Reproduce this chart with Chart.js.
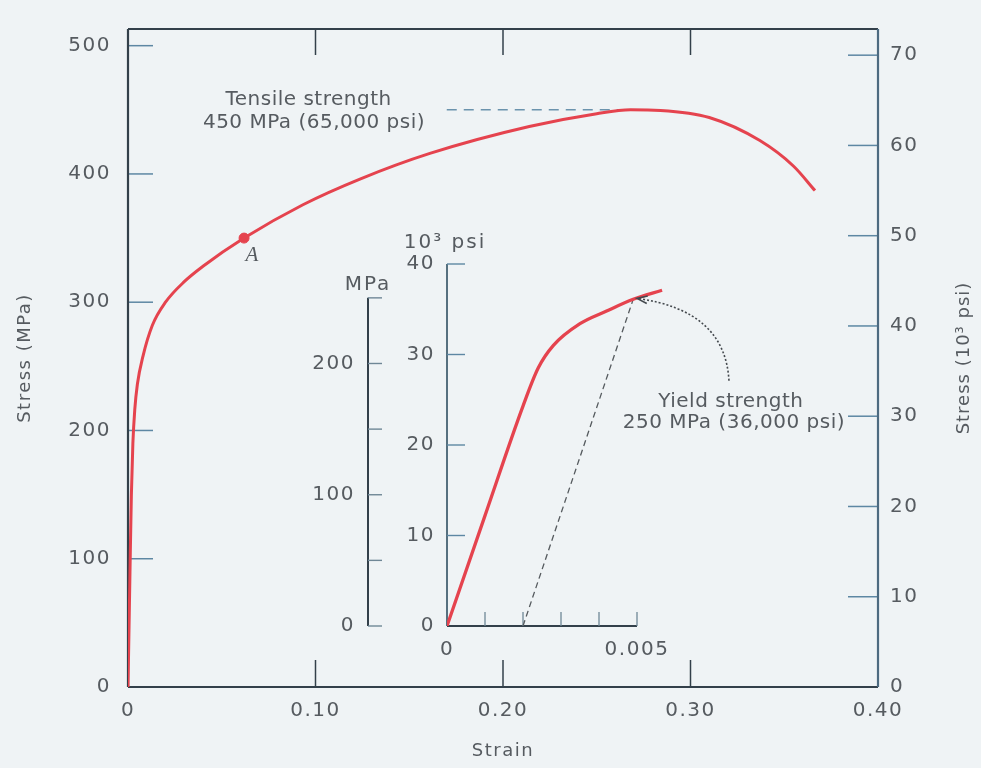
<!DOCTYPE html>
<html>
<head>
<meta charset="utf-8">
<title>Stress-strain curve</title>
<script src="https://cdn.jsdelivr.net/npm/chart.js@4.4.1/dist/chart.umd.min.js"></script>
<style>
  body { margin: 0; background: #eff3f5; }
  #wrap { position: relative; width: 981px; height: 768px; }
  #chart { position: absolute; left: 0; top: 0; }
  #inset { position: absolute; left: 300px; top: 220px; }
</style>
</head>
<body>
<div id="wrap">
  <canvas id="chart" width="981" height="768"></canvas>
  <canvas id="inset" width="580" height="450"></canvas>
</div>
<script>
'use strict';

// main curve, strain vs stress in MPa
const strain    = [0, 0.0010, 0.0018, 0.0026, 0.0036, 0.0050, 0.0080, 0.0130, 0.0200, 0.030, 0.040, 0.0619, 0.0933, 0.1237, 0.161, 0.214, 0.250, 0.268, 0.284, 0.310, 0.337, 0.355, 0.3664];
const stressMPa = [0, 85,     150,    190,    216,    236,    258,    282,    300,    316,   328,   350,    376,    396,    416,   437,   447,   450,   449.5, 444,   426,   406,   387];

// tensile strength and point A
const tensileStrain = [0.170, 0.268];
const tensileMPa = [450, 450];
const pointA = [0.0619, 350];

// inset: small strains, stress in 10^3 psi
const insetStrain = [0, 0.0010, 0.0020, 0.0024, 0.0028, 0.0035, 0.0042, 0.0049, 0.00566];
const insetKsi    = [0, 12.2,   24.3,   28.5,   31.0,   33.4,   34.8,   36.1,   37.1];
// 0.002 offset line up to the yield point
const offsetStrain = [0.002, 0.0049];
const offsetKsi = [0, 36.1];

// tick labels
const xTickLabels = ['0', '0.10', '0.20', '0.30', '0.40'];
const mpaTickLabels = ['0', '100', '200', '300', '400', '500'];
const ksiTickLabels = ['0', '10', '20', '30', '40', '50', '60', '70'];
const insetXTickLabels = ['0', '', '', '', '', '0.005', ''];
const insetKsiTickLabels = ['0', '10', '20', '30', '40'];
const insetMPaTickLabels = ['0', '', '100', '', '200', ''];

const RED = '#e5434e';
const INK = '#33404a';
const TICK = '#5d87a3';
const TEXT = '#565b60';
const FONT = 'DejaVu Sans';
const MPA_PER_KSI = 6.895;

function line(ctx, x1, y1, x2, y2) {
  ctx.beginPath();
  ctx.moveTo(x1, y1);
  ctx.lineTo(x2, y2);
  ctx.stroke();
}

function text(ctx, str, x, y, font, spacing) {
  ctx.save();
  ctx.font = font;
  ctx.fillStyle = TEXT;
  ctx.textAlign = 'center';
  ctx.textBaseline = 'alphabetic';
  ctx.letterSpacing = spacing;
  ctx.fillText(str, x, y);
  ctx.restore();
}

const tickFont = { family: FONT, size: 20 };
const titleFont = { family: FONT, size: 18 };

const mainDecor = {
  id: 'mainDecor',
  beforeDraw(chart) {
    chart.ctx.letterSpacing = '1.5px';
  },
  beforeDatasetsDraw(chart) {
    const { ctx, chartArea: a, scales } = chart;
    ctx.save();
    ctx.lineWidth = 1.5;
    ctx.strokeStyle = TICK;
    scales.y.ticks.forEach(t => {
      if (t.value === 0) return;
      const py = scales.y.getPixelForValue(t.value);
      line(ctx, a.left, py, a.left + 25, py);
    });
    scales.y1.ticks.forEach(t => {
      if (t.value === 0) return;
      const py = scales.y1.getPixelForValue(t.value);
      line(ctx, a.right - 30, py, a.right, py);
    });
    ctx.strokeStyle = INK;
    scales.x.ticks.forEach((t, i) => {
      if (i === 0 || i === scales.x.ticks.length - 1) return;
      const px = scales.x.getPixelForValue(t.value);
      line(ctx, px, a.top, px, a.top + 26);
      line(ctx, px, a.bottom - 27, px, a.bottom);
    });
    ctx.lineWidth = 2.2;
    line(ctx, a.left, a.top, a.right, a.top);
    line(ctx, a.left, a.top, a.left, a.bottom);
    line(ctx, a.left, a.bottom, a.right, a.bottom);
    ctx.strokeStyle = '#4d6a80';
    line(ctx, a.right, a.top, a.right, a.bottom);
    ctx.restore();
  },
  afterDraw(chart) {
    const { ctx, chartArea: a, scales: { x, y, y1 } } = chart;
    const f = '20px "' + FONT + '"';
    text(ctx, 'Tensile strength', x.getPixelForValue(0.0963), y.getPixelForValue(453.6), f, '0.5px');
    text(ctx, '450 MPa (65,000 psi)', x.getPixelForValue(0.0992), y.getPixelForValue(436), f, '0.5px');
    text(ctx, 'A', x.getPixelForValue(0.0661), y.getPixelForValue(332), 'italic 21px "Liberation Serif"', '0px');
    // right axis title, reading bottom to top
    ctx.save();
    ctx.translate(y1.right - 17, (a.top + a.bottom) / 2);
    ctx.rotate(-Math.PI / 2);
    ctx.font = '18px "' + FONT + '"';
    ctx.fillStyle = TEXT;
    ctx.textAlign = 'center';
    ctx.textBaseline = 'middle';
    ctx.letterSpacing = '1px';
    ctx.fillText('Stress (10\u00b3 psi)', 0, 0);
    ctx.restore();
  }
};

new Chart(document.getElementById('chart'), {
  type: 'line',
  data: {
    datasets: [
      {
        data: strain.map((s, i) => ({ x: s, y: stressMPa[i] })),
        borderColor: RED, borderWidth: 3, pointRadius: 0,
        cubicInterpolationMode: 'monotone', yAxisID: 'y'
      },
      {
        data: tensileStrain.map((s, i) => ({ x: s, y: tensileMPa[i] })),
        borderColor: '#6b93ad', borderWidth: 1.5, borderDash: [10, 7], pointRadius: 0, yAxisID: 'y'
      },
      {
        data: [{ x: pointA[0], y: pointA[1] }],
        showLine: false, pointRadius: 5, pointBackgroundColor: RED, pointBorderColor: RED, yAxisID: 'y'
      }
    ]
  },
  options: {
    responsive: false,
    animation: false,
    events: [],
    layout: { padding: { top: 12, left: 0, right: 0, bottom: 0 } },
    plugins: { legend: { display: false }, tooltip: { enabled: false } },
    scales: {
      x: {
        type: 'linear', min: 0, max: 0.4,
        afterFit: s => { s.height = 81; },
        grid: { display: false, drawTicks: false }, border: { display: false },
        ticks: { stepSize: 0.1, padding: 12, color: TEXT, font: tickFont, autoSkip: false, maxRotation: 0,
                 callback: (v, i) => xTickLabels[i] },
        title: { display: true, text: 'Strain', color: TEXT, font: titleFont, padding: { top: 0, bottom: 6 } }
      },
      y: {
        position: 'left', min: 0, max: 513,
        afterFit: s => { s.width = 128; },
        grid: { display: false, drawTicks: false }, border: { display: false },
        ticks: { stepSize: 100, includeBounds: false, padding: 17, color: TEXT, font: tickFont, autoSkip: false,
                 callback: (v, i) => mpaTickLabels[i] },
        title: { display: true, text: 'Stress (MPa)', color: TEXT, font: titleFont, padding: { top: 15, bottom: 0 } }
      },
      y1: {
        position: 'right', min: 0, max: 72.9,
        afterFit: s => { s.width = 103; },
        grid: { display: false, drawTicks: false }, border: { display: false },
        ticks: { stepSize: 10, includeBounds: false, padding: 12, color: TEXT, font: tickFont, autoSkip: false,
                 callback: (v, i) => ksiTickLabels[i] }
      }
    }
  },
  plugins: [mainDecor]
});

const insetDecor = {
  id: 'insetDecor',
  beforeDraw(chart) {
    chart.ctx.letterSpacing = '1.5px';
  },
  beforeDatasetsDraw(chart) {
    const { ctx, chartArea: a, scales: { x, psi, mpa } } = chart;
    ctx.save();
    // MPa axis, 0 to 250
    const mx = mpa.right;
    const mTop = mpa.getPixelForValue(mpa.ticks[mpa.ticks.length - 1].value);
    ctx.strokeStyle = INK;
    ctx.lineWidth = 2;
    line(ctx, mx, mpa.getPixelForValue(0), mx, mTop);
    ctx.lineWidth = 1.4;
    ctx.strokeStyle = '#6f8796';
    mpa.ticks.forEach(t => {
      const py = mpa.getPixelForValue(t.value);
      line(ctx, mx, py, mx + 14, py);
    });
    // 10^3 psi axis
    ctx.strokeStyle = '#56707f';
    ctx.lineWidth = 2;
    line(ctx, a.left, a.bottom, a.left, a.top);
    ctx.lineWidth = 1.4;
    ctx.strokeStyle = TICK;
    psi.ticks.forEach(t => {
      if (t.value === 0) return;
      const py = psi.getPixelForValue(t.value);
      line(ctx, a.left, py, a.left + 18, py);
    });
    // strain axis, 0 to 0.005
    const xEnd = x.getPixelForValue(0.005);
    ctx.strokeStyle = INK;
    ctx.lineWidth = 2;
    line(ctx, a.left, a.bottom, xEnd, a.bottom);
    ctx.lineWidth = 1.3;
    ctx.strokeStyle = '#6f8796';
    x.ticks.forEach(t => {
      if (t.value <= 0 || t.value > 0.00501) return;
      const px = x.getPixelForValue(t.value);
      line(ctx, px, a.bottom - 14, px, a.bottom);
    });
    ctx.restore();
    const f = '20px "' + FONT + '"';
    text(ctx, 'MPa', mx, a.top + 26, f, '2px');
    text(ctx, '10\u00b3 psi', a.left - 2, a.top - 16, f, '2px');
  },
  afterDraw(chart) {
    const { ctx, scales: { x, psi } } = chart;
    const f = '20px "' + FONT + '"';
    text(ctx, 'Yield strength', x.getPixelForValue(0.00747), psi.getPixelForValue(24.2), f, '0.5px');
    text(ctx, '250 MPa (36,000 psi)', x.getPixelForValue(0.00755), psi.getPixelForValue(21.9), f, '0.5px');
    // curved arrow from the label to the yield point
    const sx = x.getPixelForValue(0.00742), sy = psi.getPixelForValue(27.1);
    const cx = x.getPixelForValue(0.00732), cy = psi.getPixelForValue(34.9);
    const ex = x.getPixelForValue(0.00500), ey = psi.getPixelForValue(36.2);
    ctx.save();
    ctx.strokeStyle = '#44494e';
    ctx.lineWidth = 1.6;
    ctx.setLineDash([2, 2]);
    ctx.beginPath();
    ctx.moveTo(sx, sy);
    ctx.quadraticCurveTo(cx, cy, ex, ey);
    ctx.stroke();
    ctx.setLineDash([]);
    const ang = Math.atan2(ey - cy, ex - cx);
    ctx.beginPath();
    ctx.moveTo(ex - 11 * Math.cos(ang - 0.35), ey - 11 * Math.sin(ang - 0.35));
    ctx.lineTo(ex, ey);
    ctx.lineTo(ex - 11 * Math.cos(ang + 0.35), ey - 11 * Math.sin(ang + 0.35));
    ctx.stroke();
    ctx.restore();
  }
};

new Chart(document.getElementById('inset'), {
  type: 'line',
  data: {
    datasets: [
      {
        data: insetStrain.map((s, i) => ({ x: s, y: insetKsi[i] })),
        borderColor: RED, borderWidth: 3.3, pointRadius: 0,
        cubicInterpolationMode: 'monotone', yAxisID: 'psi'
      },
      {
        data: offsetStrain.map((s, i) => ({ x: s, y: offsetKsi[i] })),
        borderColor: '#555a5e', borderWidth: 1.3, borderDash: [6, 4], pointRadius: 0, yAxisID: 'psi'
      }
    ]
  },
  options: {
    responsive: false,
    animation: false,
    events: [],
    layout: { padding: { top: 44, right: 205, left: 0, bottom: 0 } },
    plugins: { legend: { display: false }, tooltip: { enabled: false } },
    scales: {
      x: {
        type: 'linear', min: 0, max: 0.006,
        afterFit: s => { s.height = 44; },
        grid: { display: false, drawTicks: false }, border: { display: false },
        ticks: { stepSize: 0.001, padding: 12, color: TEXT, font: tickFont, autoSkip: false, maxRotation: 0,
                 callback: (v, i) => insetXTickLabels[i] }
      },
      psi: {
        position: 'left', weight: 0, min: 0, max: 40,
        afterFit: s => { s.width = 79; },
        grid: { display: false, drawTicks: false }, border: { display: false },
        ticks: { stepSize: 10, padding: 12, color: TEXT, font: tickFont, autoSkip: false,
                 callback: (v, i) => insetKsiTickLabels[i] }
      },
      mpa: {
        position: 'left', weight: 1, min: 0, max: 40 * MPA_PER_KSI,
        afterFit: s => { s.width = 68; },
        grid: { display: false, drawTicks: false }, border: { display: false },
        ticks: { stepSize: 50, includeBounds: false, padding: 13, color: TEXT, font: tickFont, autoSkip: false,
                 callback: (v, i) => insetMPaTickLabels[i] }
      }
    }
  },
  plugins: [insetDecor]
});
</script>
</body>
</html>
